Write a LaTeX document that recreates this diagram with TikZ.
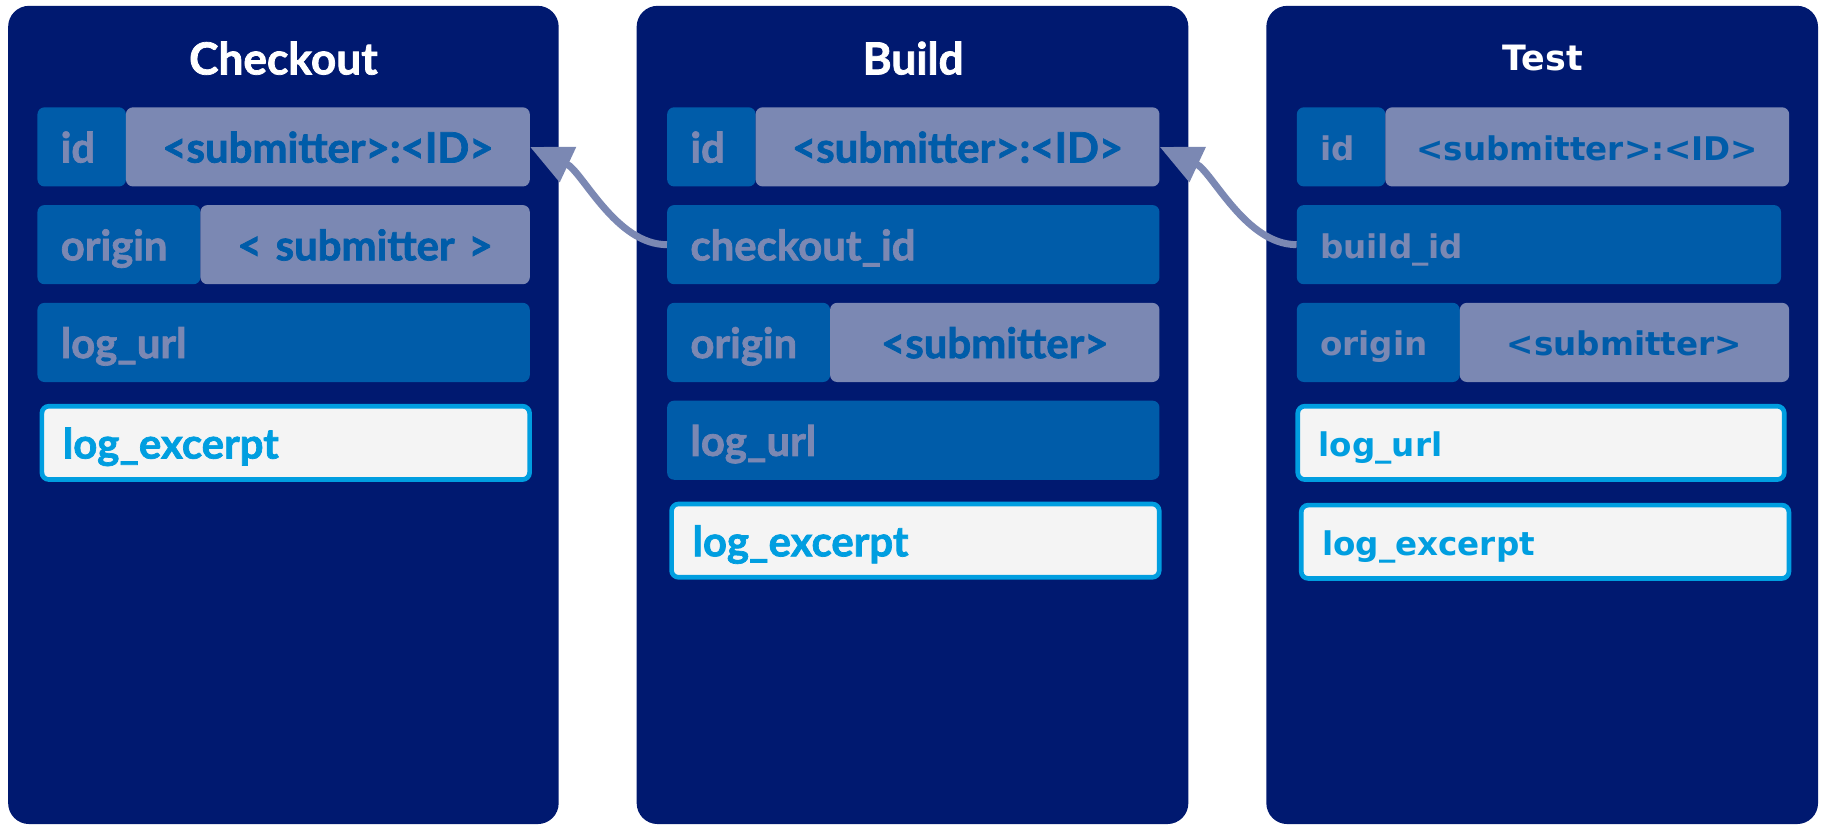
\documentclass[tikz,border=0pt]{standalone}
\usepackage{fontspec}
\usepackage{tikz}
\usetikzlibrary{arrows.meta}
\newfontfamily\rfont[BoldFeatures={FakeBold=1.7}]{Lato}
\newfontfamily\vfont{DejaVu Sans}
\definecolor{navy}{HTML}{001970}
\definecolor{keyblue}{HTML}{005CA9}
\definecolor{lavgray}{HTML}{7B88B3}
\definecolor{skyblue}{HTML}{009EE0}
\definecolor{paper}{HTML}{F4F4F4}

\begin{document}
\begin{tikzpicture}[x=1pt,y=-1pt,
	panel/.style={fill=navy,rounded corners=18pt},
	title/.style={text=white,font=\rfont\bfseries\fontsize{38}{40}\selectfont},
	box/.style={anchor=north west,rounded corners=6pt,inner xsep=20pt,inner ysep=0pt,
		minimum height=68pt,text height=30pt,text depth=3pt,
		font=\rfont\bfseries\fontsize{36}{38}\selectfont},
	key/.style={box,fill=keyblue,text=lavgray,align=left},
	val/.style={box,fill=lavgray,text=keyblue,align=center},
	logbox/.style={box,fill=paper,draw=skyblue,line width=4pt,text=skyblue,align=left,
		minimum height=63pt,inner xsep=18pt},
	wide/.style={text width={#1-40pt}},
	link/.style={line width=6pt,color=lavgray,-{Triangle[length=36pt,width=32pt]}}]
\useasboundingbox (0,0) rectangle (1568,710);
% Checkout
\begin{scope}[xshift=0pt]
	\fill[panel] (7,5) rectangle (480,708);
	\node[title] (Ctitle) at (243.5,50) {Checkout};
	\node[key,wide=76pt] (Cid) at (32,92) {id};
	\node[val,wide=347pt] (Cval) at (108,92) {<submitter>:<ID>};
	\node[key,wide=140pt] (Corig) at (32,176) {origin};
	\node[val,wide=283pt] (Csub) at (172,176) {< submitter >};
	\node[key,wide=423pt] (Curl) at (32,260) {log\_url};
	\node[logbox,wide=423pt] (Cexc) at (34,347) {log\_excerpt};
\end{scope}
% Build
\begin{scope}[xshift=541pt]
	\fill[panel] (6,5) rectangle (480,708);
	\node[title] (Btitle) at (243.5,50) {Build};
	\node[key,wide=76pt] (Bid) at (32,92) {id};
	\node[val,wide=347pt] (Bval) at (108,92) {<submitter>:<ID>};
	\node[key,wide=423pt] (Bchk) at (32,176) {checkout\_id};
	\node[key,wide=140pt] (Borig) at (32,260) {origin};
	\node[val,wide=283pt] (Bsub) at (172,260) {<submitter>};
	\node[key,wide=423pt] (Burl) at (32,344) {log\_url};
	\node[logbox,wide=423pt] (Bexc) at (34,431) {log\_excerpt};
\end{scope}
% Test
\begin{scope}[xshift=1082pt,
		title/.append style={font=\vfont\bfseries\fontsize{30}{32}\selectfont},
		box/.append style={font=\vfont\bfseries\fontsize{28}{31}\selectfont,text height=25pt,text depth=2pt}]
	\fill[panel] (6,5) rectangle (480,708);
	\node[title] (Ttitle) at (243.5,50) {Test};
	\node[key,wide=76pt] (Tid) at (32,92) {id};
	\node[val,wide=347pt] (Tval) at (108,92) {<submitter>:<ID>};
	\node[key,wide=416pt] (Tbld) at (32,176) {build\_id};
	\node[key,wide=140pt] (Torig) at (32,260) {origin};
	\node[val,wide=283pt] (Tsub) at (172,260) {<submitter>};
	\node[logbox,wide=422pt] (Turl) at (31,347) {log\_url};
	\node[logbox,wide=423pt] (Texc) at (34,432) {log\_excerpt};
\end{scope}
% links
\draw[link] (Bchk.west) .. controls +(-44,0) and +(45,21) .. (Cval.east);
\draw[link] (Tbld.west) .. controls +(-44,0) and +(45,21) .. (Bval.east);
\end{tikzpicture}
\end{document}
